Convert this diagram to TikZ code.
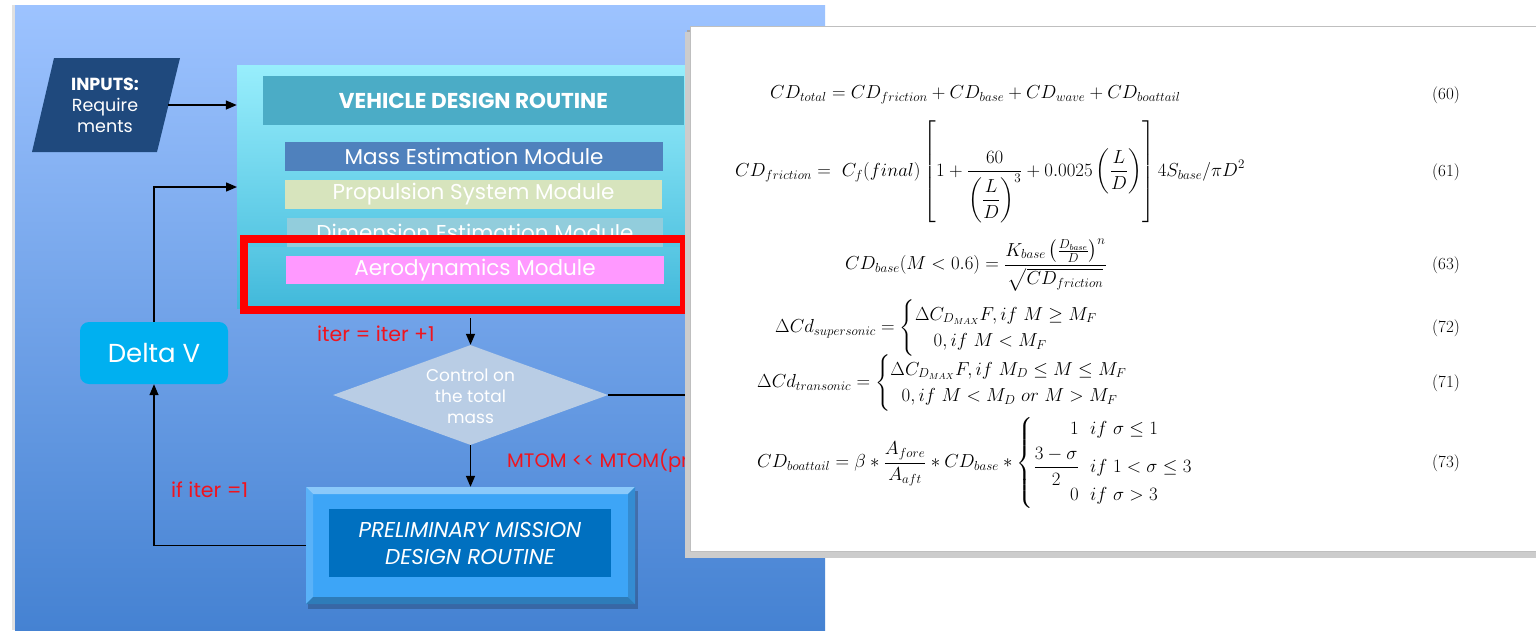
\documentclass[tikz,border=0pt]{standalone}
\usepackage{fontspec}
\usepackage{amsmath}
\usetikzlibrary{shapes.geometric,arrows.meta}
\newfontfamily\pop{Poppins}
\definecolor{panelTop}{HTML}{9DC3FF}
\definecolor{panelBot}{HTML}{4582D2}
\definecolor{vehTop}{HTML}{98EEFC}
\definecolor{vehBot}{HTML}{40B8DA}
\definecolor{titleC}{HTML}{4BACC6}
\definecolor{massC}{HTML}{4F81BD}
\definecolor{propC}{HTML}{D7E4BD}
\definecolor{dimC}{HTML}{92CDDC}
\definecolor{aeroC}{HTML}{FF99FF}
\definecolor{diaC}{HTML}{B9CDE5}
\definecolor{pmdC}{HTML}{3DA5F7}
\definecolor{pmdIn}{HTML}{0070C0}
\definecolor{dvC}{HTML}{00B0F0}
\definecolor{inC}{HTML}{1F497D}
\definecolor{labC}{HTML}{F0141E}
\begin{document}
\begin{tikzpicture}[x=1pt,y=-1pt,
  arr/.style={draw=black,line width=1.4pt,-{Triangle[length=11pt,width=9pt]}},
  plain/.style={draw=black,line width=1.4pt},
  bar/.style={inner sep=0pt,text=white,font=\pop\fontsize{21.5}{24}\selectfont},
  lab/.style={text=labC,inner sep=0pt,font=\pop\fontsize{20.5}{24}\selectfont},
  eqn/.style={anchor=west,inner sep=0pt,scale=1.09,transform shape,font=\fontsize{17}{20}\selectfont},
  eqnum/.style={inner sep=0pt,font=\fontsize{17}{20}\selectfont}]
\useasboundingbox (0,0) rectangle (1536,630);
\fill[white] (0,0) rectangle (1536,630);
% blue panel
\fill[black!12] (12,5) rectangle (15,630);
\shade[top color=panelTop,bottom color=panelBot] (15,5) rectangle (825,630);
% inputs
\fill[inC] (54,58) -- (180,58) -- (157,152) -- (32,152) -- cycle;
\node[align=center,text=white,inner sep=0pt,minimum width=126pt,font=\pop\fontsize{17.5}{21}\selectfont] (inputs) at (105,105) {{\bfseries INPUTS:}\\Require\\ments};
% vehicle design routine
\node[inner sep=0pt,minimum width=455pt,minimum height=243pt,top color=vehTop,bottom color=vehBot] (veh) at (464.5,186.5) {};
\coordinate (vin) at (237,187);
\node[bar,fill=titleC,minimum width=421pt,minimum height=49pt,font=\pop\bfseries\fontsize{21.5}{24}\selectfont] (title) at (473.5,100.5) {VEHICLE DESIGN ROUTINE};
\node[bar,fill=massC,minimum width=378pt,minimum height=29pt] (mass) at (474,156.5) {Mass Estimation Module};
\node[bar,fill=propC,minimum width=377pt,minimum height=29pt] (prop) at (473.5,194.5) {Propulsion System Module};
\node[bar,fill=dimC,minimum width=376pt,minimum height=29pt] (dim) at (475,232.5) {Dimension Estimation Module};
\shade[top color=vehTop!30!vehBot,bottom color=vehBot] (244,247) rectangle (684,310);
\node[draw=red,line width=8pt,inner sep=0pt,minimum width=440pt,minimum height=71pt] (red) at (464,274.5) {};
\node[bar,fill=aeroC,minimum width=378pt,minimum height=28pt] (aero) at (475,270) {Aerodynamics Module};
% diamond
\node[diamond,fill=diaC,aspect=2.75,inner sep=0pt,minimum width=275pt,minimum height=100pt] (dia) at (470.5,395) {};
\node[align=center,text=white,inner sep=0pt,font=\pop\fontsize{17}{21}\selectfont] (diatext) at (470.5,396) {Control on\\the total\\mass};
% preliminary mission design routine
\fill[black,opacity=0.22] (308,491) rectangle (638,609);
\node[inner sep=0pt,fill=pmdC,minimum width=329pt,minimum height=117pt] (pmd) at (470.5,545.5) {};
\fill[pmdC!60!white] (306,487) -- (635,487) -- (628,494) -- (313,494) -- cycle;
\fill[pmdC!85!white] (306,487) -- (313,494) -- (313,597) -- (306,604) -- cycle;
\fill[pmdC!85!black] (635,487) -- (635,604) -- (628,597) -- (628,494) -- cycle;
\fill[pmdC!75!black] (306,604) -- (313,597) -- (628,597) -- (635,604) -- cycle;
\node[inner sep=0pt,fill=pmdIn,minimum width=282pt,minimum height=68pt,align=center,text=white,font=\pop\itshape\fontsize{21.5}{27}\selectfont] (pmdin) at (470,543) {PRELIMINARY MISSION\\DESIGN ROUTINE};
% delta v
\node[fill=dvC,rounded corners=9pt,minimum width=148pt,minimum height=62pt,inner sep=0pt,text=white,font=\pop\fontsize{26}{28}\selectfont] (dv) at (154,353) {Delta V};
% connectors
\draw[arr] (inputs.east) -- (inputs.east -| veh.west);
\draw[arr] (pmd.west) -| (dv.south);
\draw[arr] (dv.north) |- (vin);
\draw[arr,shorten <=4pt] (red.south -| dia.north) -- (dia.north);
\draw[arr] (dia.south) -- (dia.south |- pmd.north);
\draw[plain] (dia.east) -- (700,395);
% labels
\node[lab,anchor=west] (l1) at (317,334) {iter = iter +1};
\node[lab,anchor=west,font=\pop\fontsize{19.5}{24}\selectfont] (l2) at (507,461) {MTOM <\kern1pt< MTOM(pre};
\node[lab,anchor=west] (l3) at (171,490) {if iter =1};
% equation panel
\fill[black!35] (687,30) rectangle (1540,556);
\fill[black!20] (685,32) rectangle (1540,558);
\node[fill=white,draw=black!25,line width=0.6pt,inner sep=0pt,minimum width=850pt,minimum height=525pt] (eq) at (1115,288.5) {};
\node[eqn] (e60) at (770,95) {$CD_{total} = CD_{friction} + CD_{base} + CD_{wave} + CD_{boattail}$};
\node[eqn] (e61) at (735,172) {$\displaystyle CD_{friction} = \ C_f(final)\left[1+\frac{60}{\left(\dfrac{L}{D}\right)^{3}}+0.0025\left(\frac{L}{D}\right)\right]4S_{base}/\pi D^{2}$};
\node[eqn] (e63) at (845,265) {$\displaystyle CD_{base}(M<0.6) = \frac{K_{base}\left(\frac{D_{base}}{D}\right)^{n}}{\sqrt{CD_{friction}}}$};
\node[eqn] (e72) at (775,328) {$\Delta Cd_{supersonic} = \begin{cases}\Delta C_{D_{MAX}}F, if\ M \ge M_F\\ \quad 0, if\ M < M_F\end{cases}$};
\node[eqn] (e71) at (757,383) {$\Delta Cd_{transonic} = \begin{cases}\Delta C_{D_{MAX}}F, if\ M_D \le M \le M_F\\ \ \ 0, if\ M < M_D\ or\ M > M_F\end{cases}$};
\node[eqn] (e73) at (757,463) {$\displaystyle CD_{boattail} = \beta * \frac{A_{fore}}{A_{aft}} * CD_{base} * \left\{\begin{array}{@{}r@{\ \ }l@{}} 1 & if\ \sigma\le 1\\[6pt] \dfrac{3-\sigma}{2} & if\ 1<\sigma\le 3\\[6pt] 0 & if\ \sigma>3\end{array}\right.$};
\node[eqnum] (n60) at (1446,95) {(60)};
\node[eqnum] (n61) at (1446,172) {(61)};
\node[eqnum] (n63) at (1446,265) {(63)};
\node[eqnum] (n72) at (1446,328) {(72)};
\node[eqnum] (n71) at (1446,383) {(71)};
\node[eqnum] (n73) at (1446,463) {(73)};
\end{tikzpicture}
\end{document}
